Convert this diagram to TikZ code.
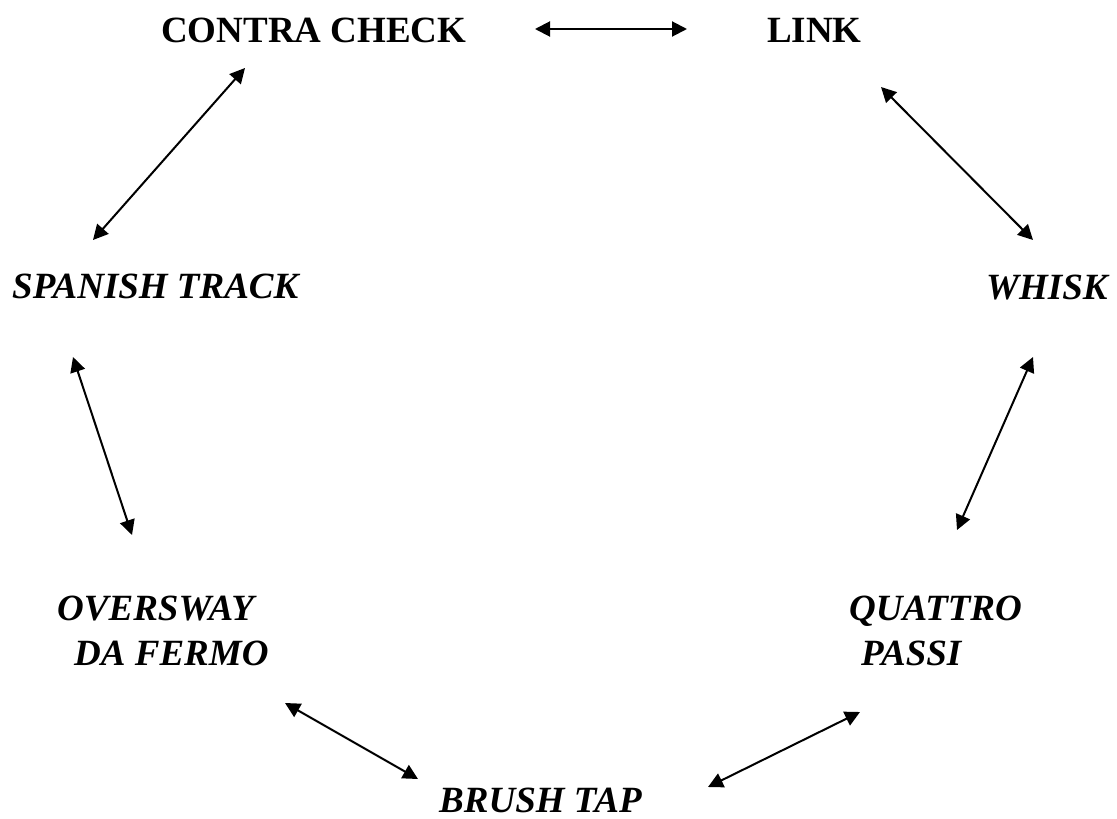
\documentclass[tikz,border=0pt]{standalone}
\usepackage{fontspec}
\setmainfont{Liberation Serif}
\usetikzlibrary{arrows.meta}
\begin{document}
\begin{tikzpicture}[x=1pt,y=-1pt,
  lbl/.style={inner sep=0pt, anchor=base west, align=left, font=\fontsize{37}{45}\selectfont\bfseries\itshape},
  ulbl/.style={inner sep=0pt, anchor=base west, font=\fontsize{37}{45}\selectfont\bfseries},
  conn/.style={line width=2pt, {Triangle[length=15pt,width=15pt]}-{Triangle[length=15pt,width=15pt]}}]
\useasboundingbox (0,0) rectangle (1117,819);
\node[ulbl] (contra) at (161,42) {CONTRA CHECK};
\node[ulbl] (link) at (767,42) {LINK};
\node[lbl] (spanish) at (12,298) {SPANISH TRACK};
\node[lbl] (whisk) at (986,299) {WHISK};
\node[lbl] (oversway) at (57,665) {OVERSWAY\\\hspace*{17pt}DA FERMO};
\node[lbl] (quattro) at (849,665) {QUATTRO\\\hspace*{12pt}PASSI};
\node[lbl] (brush) at (439,812) {BRUSH TAP};
\coordinate (c1) at (535,29); \coordinate (l1) at (687,29);
\coordinate (c2) at (245,68); \coordinate (s1) at (93,240);
\coordinate (l2) at (881,87); \coordinate (w1) at (1033,240);
\coordinate (s2) at (73,357); \coordinate (o1) at (132,535);
\coordinate (w2) at (1033,357); \coordinate (q1) at (957,530);
\coordinate (o2) at (285,703); \coordinate (b1) at (418,779);
\coordinate (b2) at (708,787); \coordinate (q2) at (860,712);
\draw[conn] (c1) -- (l1);
\draw[conn] (c2) -- (s1);
\draw[conn] (l2) -- (w1);
\draw[conn] (s2) -- (o1);
\draw[conn] (w2) -- (q1);
\draw[conn] (o2) -- (b1);
\draw[conn] (b2) -- (q2);
\end{tikzpicture}
\end{document}
